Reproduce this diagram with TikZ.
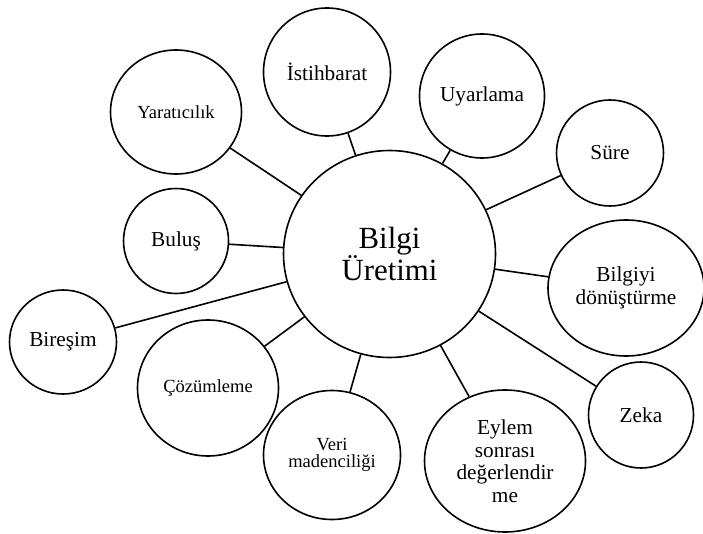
\documentclass[tikz,border=0pt]{standalone}
\usepackage{fontspec}
\setmainfont{Liberation Serif}
\usetikzlibrary{shapes.geometric}
\tikzset{
  bubble/.style={ellipse, draw=black, line width=1.6pt, fill=white, inner sep=0pt, align=center, font=\fontsize{21.3}{22.5}\selectfont},
  smallbubble/.style={bubble, font=\fontsize{18.5}{17.5}\selectfont},
  link/.style={line width=1.6pt, draw=black}
}
\begin{document}
\begin{tikzpicture}[x=1pt,y=-1pt]
\useasboundingbox (0,0) rectangle (703,534);
\fill[white] (0,0) rectangle (703,534);
\node[bubble, minimum width=212pt, minimum height=207pt, font=\fontsize{30.8}{32}\selectfont] (main) at (389.5,254) {Bilgi\\Üretimi};
\node[bubble, minimum width=127pt, minimum height=128pt] (ist) at (327,72) {İstihbarat};
\node[smallbubble, minimum width=131pt, minimum height=124pt] (yar) at (176,112) {Yaratıcılık};
\node[bubble, minimum width=105pt, minimum height=105pt] (bul) at (176,241) {Buluş};
\node[bubble, minimum width=107pt, minimum height=104pt] (bir) at (63,342) {Bireşim};
\node[smallbubble, minimum width=141pt, minimum height=136pt] (coz) at (208,388) {Çözümleme};
\node[smallbubble, minimum width=137pt, minimum height=129pt] (veri) at (332,455) {Veri\\madenciliği};
\node[bubble, minimum width=161pt, minimum height=142pt] (eyl) at (505,461) {Eylem\\sonrası\\değerlendir\\me};
\node[bubble, minimum width=105pt, minimum height=106pt] (zek) at (641,415) {Zeka};
\node[bubble, minimum width=156pt, minimum height=136pt] (don) at (626,288) {Bilgiyi\\dönüştürme};
\node[bubble, minimum width=107pt, minimum height=106pt] (sur) at (610,153) {Süre};
\node[bubble, minimum width=125pt, minimum height=124pt] (uya) at (482,96) {Uyarlama};
\foreach \n in {ist,yar,bul,bir,coz,veri,eyl,zek,don,sur,uya}
  \draw[link] (main) -- (\n);
\end{tikzpicture}
\end{document}
